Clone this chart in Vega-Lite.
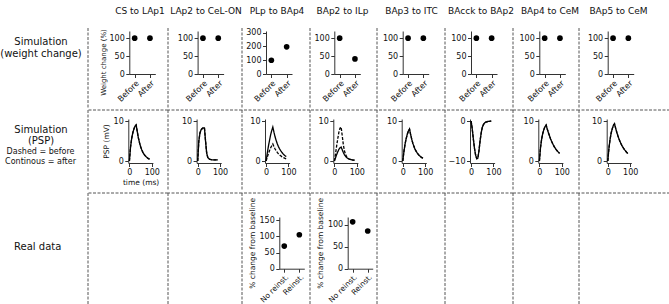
{
"$schema": "https://vega.github.io/schema/vega-lite/v6.json",
"padding": {"top": 6, "left": 0, "right": 0, "bottom": 0},
"spacing": 0,
"config": {
 "view": {"stroke": null},
 "font": "DejaVu Sans",
 "axis": {"grid": false, "domainColor": "#333", "tickColor": "#333", "tickSize": 3.5, "labelFontSize": 8, "labelColor": "#111", "labelPadding": 1.5, "titleFontSize": 7.5, "titleFontWeight": "normal", "titleColor": "#111", "labelFlush": false, "labelOverlap": false, "titlePadding": 3},
 "title": {"fontSize": 9, "fontWeight": "normal", "color": "#111", "frame": "group", "anchor": "middle", "offset": 12}
},
"datasets": {
 "sep": [{"p": 0}],
 "weight": [
  {"c":"CS to LAp1","phase":"Before","value":100},{"c":"CS to LAp1","phase":"After","value":100},
  {"c":"LAp2 to CeL-ON","phase":"Before","value":100},{"c":"LAp2 to CeL-ON","phase":"After","value":100},
  {"c":"PLp to BAp4","phase":"Before","value":100},{"c":"PLp to BAp4","phase":"After","value":197},
  {"c":"BAp2 to ILp","phase":"Before","value":100},{"c":"BAp2 to ILp","phase":"After","value":42},
  {"c":"BAp3 to ITC","phase":"Before","value":100},{"c":"BAp3 to ITC","phase":"After","value":100},
  {"c":"BAcck to BAp2","phase":"Before","value":100},{"c":"BAcck to BAp2","phase":"After","value":100},
  {"c":"BAp4 to CeM","phase":"Before","value":100},{"c":"BAp4 to CeM","phase":"After","value":100},
  {"c":"BAp5 to CeM","phase":"Before","value":100},{"c":"BAp5 to CeM","phase":"After","value":100}
 ],
 "real": [
  {"c":"PLp to BAp4","group":"No reinst.","value":70},{"c":"PLp to BAp4","group":"Reinst.","value":105},
  {"c":"BAp2 to ILp","group":"No reinst.","value":107},{"c":"BAp2 to ILp","group":"Reinst.","value":86}
 ],
 "psp": [
  {"c":"CS to LAp1","s":"before","t":0,"v":0},{"c":"CS to LAp1","s":"before","t":5,"v":3.5},{"c":"CS to LAp1","s":"before","t":10,"v":5.6},{"c":"CS to LAp1","s":"before","t":15,"v":7.0},{"c":"CS to LAp1","s":"before","t":20,"v":8.0},{"c":"CS to LAp1","s":"before","t":25,"v":8.7},{"c":"CS to LAp1","s":"before","t":30,"v":9.0},{"c":"CS to LAp1","s":"before","t":35,"v":7.4},{"c":"CS to LAp1","s":"before","t":40,"v":5.8},{"c":"CS to LAp1","s":"before","t":45,"v":4.6},{"c":"CS to LAp1","s":"before","t":50,"v":3.6},{"c":"CS to LAp1","s":"before","t":55,"v":2.8},{"c":"CS to LAp1","s":"before","t":60,"v":2.2},{"c":"CS to LAp1","s":"before","t":65,"v":1.7},{"c":"CS to LAp1","s":"before","t":70,"v":1.35},{"c":"CS to LAp1","s":"before","t":75,"v":1.05},{"c":"CS to LAp1","s":"before","t":80,"v":0.8},{"c":"CS to LAp1","s":"before","t":85,"v":0.6},{"c":"CS to LAp1","s":"before","t":90,"v":0.45},
  {"c":"CS to LAp1","s":"after","t":0,"v":0},{"c":"CS to LAp1","s":"after","t":5,"v":3.5},{"c":"CS to LAp1","s":"after","t":10,"v":5.6},{"c":"CS to LAp1","s":"after","t":15,"v":7.0},{"c":"CS to LAp1","s":"after","t":20,"v":8.0},{"c":"CS to LAp1","s":"after","t":25,"v":8.7},{"c":"CS to LAp1","s":"after","t":30,"v":9.0},{"c":"CS to LAp1","s":"after","t":35,"v":7.4},{"c":"CS to LAp1","s":"after","t":40,"v":5.8},{"c":"CS to LAp1","s":"after","t":45,"v":4.6},{"c":"CS to LAp1","s":"after","t":50,"v":3.6},{"c":"CS to LAp1","s":"after","t":55,"v":2.8},{"c":"CS to LAp1","s":"after","t":60,"v":2.2},{"c":"CS to LAp1","s":"after","t":65,"v":1.7},{"c":"CS to LAp1","s":"after","t":70,"v":1.35},{"c":"CS to LAp1","s":"after","t":75,"v":1.05},{"c":"CS to LAp1","s":"after","t":80,"v":0.8},{"c":"CS to LAp1","s":"after","t":85,"v":0.6},{"c":"CS to LAp1","s":"after","t":90,"v":0.45},
  {"c":"LAp2 to CeL-ON","s":"before","t":0,"v":0},{"c":"LAp2 to CeL-ON","s":"before","t":5,"v":5.0},{"c":"LAp2 to CeL-ON","s":"before","t":10,"v":7.0},{"c":"LAp2 to CeL-ON","s":"before","t":15,"v":7.8},{"c":"LAp2 to CeL-ON","s":"before","t":20,"v":8.1},{"c":"LAp2 to CeL-ON","s":"before","t":25,"v":8.3},{"c":"LAp2 to CeL-ON","s":"before","t":30,"v":8.3},{"c":"LAp2 to CeL-ON","s":"before","t":35,"v":5.0},{"c":"LAp2 to CeL-ON","s":"before","t":40,"v":2.0},{"c":"LAp2 to CeL-ON","s":"before","t":45,"v":0.9},{"c":"LAp2 to CeL-ON","s":"before","t":50,"v":0.55},{"c":"LAp2 to CeL-ON","s":"before","t":55,"v":0.4},{"c":"LAp2 to CeL-ON","s":"before","t":60,"v":0.35},{"c":"LAp2 to CeL-ON","s":"before","t":65,"v":0.3},{"c":"LAp2 to CeL-ON","s":"before","t":70,"v":0.3},{"c":"LAp2 to CeL-ON","s":"before","t":75,"v":0.3},{"c":"LAp2 to CeL-ON","s":"before","t":80,"v":0.3},{"c":"LAp2 to CeL-ON","s":"before","t":85,"v":0.3},{"c":"LAp2 to CeL-ON","s":"before","t":90,"v":0.3},
  {"c":"LAp2 to CeL-ON","s":"after","t":0,"v":0},{"c":"LAp2 to CeL-ON","s":"after","t":5,"v":5.0},{"c":"LAp2 to CeL-ON","s":"after","t":10,"v":7.0},{"c":"LAp2 to CeL-ON","s":"after","t":15,"v":7.8},{"c":"LAp2 to CeL-ON","s":"after","t":20,"v":8.1},{"c":"LAp2 to CeL-ON","s":"after","t":25,"v":8.3},{"c":"LAp2 to CeL-ON","s":"after","t":30,"v":8.3},{"c":"LAp2 to CeL-ON","s":"after","t":35,"v":5.0},{"c":"LAp2 to CeL-ON","s":"after","t":40,"v":2.0},{"c":"LAp2 to CeL-ON","s":"after","t":45,"v":0.9},{"c":"LAp2 to CeL-ON","s":"after","t":50,"v":0.55},{"c":"LAp2 to CeL-ON","s":"after","t":55,"v":0.4},{"c":"LAp2 to CeL-ON","s":"after","t":60,"v":0.35},{"c":"LAp2 to CeL-ON","s":"after","t":65,"v":0.3},{"c":"LAp2 to CeL-ON","s":"after","t":70,"v":0.3},{"c":"LAp2 to CeL-ON","s":"after","t":75,"v":0.3},{"c":"LAp2 to CeL-ON","s":"after","t":80,"v":0.3},{"c":"LAp2 to CeL-ON","s":"after","t":85,"v":0.3},{"c":"LAp2 to CeL-ON","s":"after","t":90,"v":0.3},
  {"c":"PLp to BAp4","s":"before","t":0,"v":0},{"c":"PLp to BAp4","s":"before","t":5,"v":0.95},{"c":"PLp to BAp4","s":"before","t":10,"v":1.8},{"c":"PLp to BAp4","s":"before","t":15,"v":2.55},{"c":"PLp to BAp4","s":"before","t":20,"v":3.25},{"c":"PLp to BAp4","s":"before","t":25,"v":3.8},{"c":"PLp to BAp4","s":"before","t":30,"v":4.25},{"c":"PLp to BAp4","s":"before","t":35,"v":3.6},{"c":"PLp to BAp4","s":"before","t":40,"v":3.0},{"c":"PLp to BAp4","s":"before","t":45,"v":2.55},{"c":"PLp to BAp4","s":"before","t":50,"v":2.15},{"c":"PLp to BAp4","s":"before","t":55,"v":1.8},{"c":"PLp to BAp4","s":"before","t":60,"v":1.5},{"c":"PLp to BAp4","s":"before","t":65,"v":1.3},{"c":"PLp to BAp4","s":"before","t":70,"v":1.1},{"c":"PLp to BAp4","s":"before","t":75,"v":0.9},{"c":"PLp to BAp4","s":"before","t":80,"v":0.78},{"c":"PLp to BAp4","s":"before","t":85,"v":0.65},{"c":"PLp to BAp4","s":"before","t":90,"v":0.55},
  {"c":"PLp to BAp4","s":"after","t":0,"v":0},{"c":"PLp to BAp4","s":"after","t":5,"v":1.9},{"c":"PLp to BAp4","s":"after","t":10,"v":3.6},{"c":"PLp to BAp4","s":"after","t":15,"v":5.1},{"c":"PLp to BAp4","s":"after","t":20,"v":6.5},{"c":"PLp to BAp4","s":"after","t":25,"v":7.6},{"c":"PLp to BAp4","s":"after","t":30,"v":8.5},{"c":"PLp to BAp4","s":"after","t":35,"v":7.2},{"c":"PLp to BAp4","s":"after","t":40,"v":6.05},{"c":"PLp to BAp4","s":"after","t":45,"v":5.1},{"c":"PLp to BAp4","s":"after","t":50,"v":4.3},{"c":"PLp to BAp4","s":"after","t":55,"v":3.6},{"c":"PLp to BAp4","s":"after","t":60,"v":3.05},{"c":"PLp to BAp4","s":"after","t":65,"v":2.6},{"c":"PLp to BAp4","s":"after","t":70,"v":2.2},{"c":"PLp to BAp4","s":"after","t":75,"v":1.85},{"c":"PLp to BAp4","s":"after","t":80,"v":1.55},{"c":"PLp to BAp4","s":"after","t":85,"v":1.3},{"c":"PLp to BAp4","s":"after","t":90,"v":1.1},
  {"c":"BAp2 to ILp","s":"before","t":0,"v":0},{"c":"BAp2 to ILp","s":"before","t":5,"v":1.8},{"c":"BAp2 to ILp","s":"before","t":10,"v":3.8},{"c":"BAp2 to ILp","s":"before","t":15,"v":5.6},{"c":"BAp2 to ILp","s":"before","t":20,"v":7.2},{"c":"BAp2 to ILp","s":"before","t":25,"v":8.2},{"c":"BAp2 to ILp","s":"before","t":30,"v":8.5},{"c":"BAp2 to ILp","s":"before","t":35,"v":6.3},{"c":"BAp2 to ILp","s":"before","t":40,"v":4.0},{"c":"BAp2 to ILp","s":"before","t":45,"v":2.5},{"c":"BAp2 to ILp","s":"before","t":50,"v":1.6},{"c":"BAp2 to ILp","s":"before","t":55,"v":1.0},{"c":"BAp2 to ILp","s":"before","t":60,"v":0.7},{"c":"BAp2 to ILp","s":"before","t":65,"v":0.5},{"c":"BAp2 to ILp","s":"before","t":70,"v":0.4},{"c":"BAp2 to ILp","s":"before","t":75,"v":0.3},{"c":"BAp2 to ILp","s":"before","t":80,"v":0.25},{"c":"BAp2 to ILp","s":"before","t":85,"v":0.2},{"c":"BAp2 to ILp","s":"before","t":90,"v":0.2},
  {"c":"BAp2 to ILp","s":"after","t":0,"v":0},{"c":"BAp2 to ILp","s":"after","t":5,"v":0.8},{"c":"BAp2 to ILp","s":"after","t":10,"v":1.6},{"c":"BAp2 to ILp","s":"after","t":15,"v":2.3},{"c":"BAp2 to ILp","s":"after","t":20,"v":2.9},{"c":"BAp2 to ILp","s":"after","t":25,"v":3.3},{"c":"BAp2 to ILp","s":"after","t":30,"v":3.5},{"c":"BAp2 to ILp","s":"after","t":35,"v":2.8},{"c":"BAp2 to ILp","s":"after","t":40,"v":2.1},{"c":"BAp2 to ILp","s":"after","t":45,"v":1.55},{"c":"BAp2 to ILp","s":"after","t":50,"v":1.15},{"c":"BAp2 to ILp","s":"after","t":55,"v":0.85},{"c":"BAp2 to ILp","s":"after","t":60,"v":0.65},{"c":"BAp2 to ILp","s":"after","t":65,"v":0.5},{"c":"BAp2 to ILp","s":"after","t":70,"v":0.4},{"c":"BAp2 to ILp","s":"after","t":75,"v":0.32},{"c":"BAp2 to ILp","s":"after","t":80,"v":0.27},{"c":"BAp2 to ILp","s":"after","t":85,"v":0.22},{"c":"BAp2 to ILp","s":"after","t":90,"v":0.2},
  {"c":"BAp3 to ITC","s":"before","t":0,"v":0},{"c":"BAp3 to ITC","s":"before","t":5,"v":2.4},{"c":"BAp3 to ITC","s":"before","t":10,"v":4.2},{"c":"BAp3 to ITC","s":"before","t":15,"v":5.6},{"c":"BAp3 to ITC","s":"before","t":20,"v":6.7},{"c":"BAp3 to ITC","s":"before","t":25,"v":7.5},{"c":"BAp3 to ITC","s":"before","t":30,"v":8.0},{"c":"BAp3 to ITC","s":"before","t":35,"v":6.6},{"c":"BAp3 to ITC","s":"before","t":40,"v":5.4},{"c":"BAp3 to ITC","s":"before","t":45,"v":4.4},{"c":"BAp3 to ITC","s":"before","t":50,"v":3.6},{"c":"BAp3 to ITC","s":"before","t":55,"v":2.9},{"c":"BAp3 to ITC","s":"before","t":60,"v":2.4},{"c":"BAp3 to ITC","s":"before","t":65,"v":1.95},{"c":"BAp3 to ITC","s":"before","t":70,"v":1.6},{"c":"BAp3 to ITC","s":"before","t":75,"v":1.3},{"c":"BAp3 to ITC","s":"before","t":80,"v":1.05},{"c":"BAp3 to ITC","s":"before","t":85,"v":0.85},{"c":"BAp3 to ITC","s":"before","t":90,"v":0.7},
  {"c":"BAp3 to ITC","s":"after","t":0,"v":0},{"c":"BAp3 to ITC","s":"after","t":5,"v":2.4},{"c":"BAp3 to ITC","s":"after","t":10,"v":4.2},{"c":"BAp3 to ITC","s":"after","t":15,"v":5.6},{"c":"BAp3 to ITC","s":"after","t":20,"v":6.7},{"c":"BAp3 to ITC","s":"after","t":25,"v":7.5},{"c":"BAp3 to ITC","s":"after","t":30,"v":8.0},{"c":"BAp3 to ITC","s":"after","t":35,"v":6.6},{"c":"BAp3 to ITC","s":"after","t":40,"v":5.4},{"c":"BAp3 to ITC","s":"after","t":45,"v":4.4},{"c":"BAp3 to ITC","s":"after","t":50,"v":3.6},{"c":"BAp3 to ITC","s":"after","t":55,"v":2.9},{"c":"BAp3 to ITC","s":"after","t":60,"v":2.4},{"c":"BAp3 to ITC","s":"after","t":65,"v":1.95},{"c":"BAp3 to ITC","s":"after","t":70,"v":1.6},{"c":"BAp3 to ITC","s":"after","t":75,"v":1.3},{"c":"BAp3 to ITC","s":"after","t":80,"v":1.05},{"c":"BAp3 to ITC","s":"after","t":85,"v":0.85},{"c":"BAp3 to ITC","s":"after","t":90,"v":0.7},
  {"c":"BAcck to BAp2","s":"before","t":0,"v":0},{"c":"BAcck to BAp2","s":"before","t":5,"v":-2.0},{"c":"BAcck to BAp2","s":"before","t":10,"v":-4.5},{"c":"BAcck to BAp2","s":"before","t":15,"v":-6.8},{"c":"BAcck to BAp2","s":"before","t":20,"v":-8.5},{"c":"BAcck to BAp2","s":"before","t":25,"v":-9.4},{"c":"BAcck to BAp2","s":"before","t":30,"v":-9.3},{"c":"BAcck to BAp2","s":"before","t":35,"v":-7.5},{"c":"BAcck to BAp2","s":"before","t":40,"v":-5.0},{"c":"BAcck to BAp2","s":"before","t":45,"v":-3.0},{"c":"BAcck to BAp2","s":"before","t":50,"v":-1.6},{"c":"BAcck to BAp2","s":"before","t":55,"v":-0.9},{"c":"BAcck to BAp2","s":"before","t":60,"v":-0.5},{"c":"BAcck to BAp2","s":"before","t":65,"v":-0.3},{"c":"BAcck to BAp2","s":"before","t":70,"v":-0.2},{"c":"BAcck to BAp2","s":"before","t":75,"v":-0.12},{"c":"BAcck to BAp2","s":"before","t":80,"v":-0.08},{"c":"BAcck to BAp2","s":"before","t":85,"v":-0.05},{"c":"BAcck to BAp2","s":"before","t":90,"v":-0.03},
  {"c":"BAcck to BAp2","s":"after","t":0,"v":0},{"c":"BAcck to BAp2","s":"after","t":5,"v":-2.0},{"c":"BAcck to BAp2","s":"after","t":10,"v":-4.5},{"c":"BAcck to BAp2","s":"after","t":15,"v":-6.8},{"c":"BAcck to BAp2","s":"after","t":20,"v":-8.5},{"c":"BAcck to BAp2","s":"after","t":25,"v":-9.4},{"c":"BAcck to BAp2","s":"after","t":30,"v":-9.3},{"c":"BAcck to BAp2","s":"after","t":35,"v":-7.5},{"c":"BAcck to BAp2","s":"after","t":40,"v":-5.0},{"c":"BAcck to BAp2","s":"after","t":45,"v":-3.0},{"c":"BAcck to BAp2","s":"after","t":50,"v":-1.6},{"c":"BAcck to BAp2","s":"after","t":55,"v":-0.9},{"c":"BAcck to BAp2","s":"after","t":60,"v":-0.5},{"c":"BAcck to BAp2","s":"after","t":65,"v":-0.3},{"c":"BAcck to BAp2","s":"after","t":70,"v":-0.2},{"c":"BAcck to BAp2","s":"after","t":75,"v":-0.12},{"c":"BAcck to BAp2","s":"after","t":80,"v":-0.08},{"c":"BAcck to BAp2","s":"after","t":85,"v":-0.05},{"c":"BAcck to BAp2","s":"after","t":90,"v":-0.03},
  {"c":"BAp4 to CeM","s":"before","t":0,"v":0},{"c":"BAp4 to CeM","s":"before","t":5,"v":3.4},{"c":"BAp4 to CeM","s":"before","t":10,"v":5.5},{"c":"BAp4 to CeM","s":"before","t":15,"v":6.9},{"c":"BAp4 to CeM","s":"before","t":20,"v":7.9},{"c":"BAp4 to CeM","s":"before","t":25,"v":8.6},{"c":"BAp4 to CeM","s":"before","t":30,"v":9.0},{"c":"BAp4 to CeM","s":"before","t":35,"v":8.0},{"c":"BAp4 to CeM","s":"before","t":40,"v":7.1},{"c":"BAp4 to CeM","s":"before","t":45,"v":6.3},{"c":"BAp4 to CeM","s":"before","t":50,"v":5.5},{"c":"BAp4 to CeM","s":"before","t":55,"v":4.85},{"c":"BAp4 to CeM","s":"before","t":60,"v":4.25},{"c":"BAp4 to CeM","s":"before","t":65,"v":3.7},{"c":"BAp4 to CeM","s":"before","t":70,"v":3.25},{"c":"BAp4 to CeM","s":"before","t":75,"v":2.85},{"c":"BAp4 to CeM","s":"before","t":80,"v":2.5},{"c":"BAp4 to CeM","s":"before","t":85,"v":2.2},{"c":"BAp4 to CeM","s":"before","t":90,"v":1.9},
  {"c":"BAp4 to CeM","s":"after","t":0,"v":0},{"c":"BAp4 to CeM","s":"after","t":5,"v":3.4},{"c":"BAp4 to CeM","s":"after","t":10,"v":5.5},{"c":"BAp4 to CeM","s":"after","t":15,"v":6.9},{"c":"BAp4 to CeM","s":"after","t":20,"v":7.9},{"c":"BAp4 to CeM","s":"after","t":25,"v":8.6},{"c":"BAp4 to CeM","s":"after","t":30,"v":9.0},{"c":"BAp4 to CeM","s":"after","t":35,"v":8.0},{"c":"BAp4 to CeM","s":"after","t":40,"v":7.1},{"c":"BAp4 to CeM","s":"after","t":45,"v":6.3},{"c":"BAp4 to CeM","s":"after","t":50,"v":5.5},{"c":"BAp4 to CeM","s":"after","t":55,"v":4.85},{"c":"BAp4 to CeM","s":"after","t":60,"v":4.25},{"c":"BAp4 to CeM","s":"after","t":65,"v":3.7},{"c":"BAp4 to CeM","s":"after","t":70,"v":3.25},{"c":"BAp4 to CeM","s":"after","t":75,"v":2.85},{"c":"BAp4 to CeM","s":"after","t":80,"v":2.5},{"c":"BAp4 to CeM","s":"after","t":85,"v":2.2},{"c":"BAp4 to CeM","s":"after","t":90,"v":1.9},
  {"c":"BAp5 to CeM","s":"before","t":0,"v":0},{"c":"BAp5 to CeM","s":"before","t":5,"v":3.2},{"c":"BAp5 to CeM","s":"before","t":10,"v":5.4},{"c":"BAp5 to CeM","s":"before","t":15,"v":7.0},{"c":"BAp5 to CeM","s":"before","t":20,"v":8.1},{"c":"BAp5 to CeM","s":"before","t":25,"v":8.9},{"c":"BAp5 to CeM","s":"before","t":30,"v":9.3},{"c":"BAp5 to CeM","s":"before","t":35,"v":8.2},{"c":"BAp5 to CeM","s":"before","t":40,"v":7.2},{"c":"BAp5 to CeM","s":"before","t":45,"v":6.3},{"c":"BAp5 to CeM","s":"before","t":50,"v":5.5},{"c":"BAp5 to CeM","s":"before","t":55,"v":4.8},{"c":"BAp5 to CeM","s":"before","t":60,"v":4.2},{"c":"BAp5 to CeM","s":"before","t":65,"v":3.65},{"c":"BAp5 to CeM","s":"before","t":70,"v":3.2},{"c":"BAp5 to CeM","s":"before","t":75,"v":2.8},{"c":"BAp5 to CeM","s":"before","t":80,"v":2.45},{"c":"BAp5 to CeM","s":"before","t":85,"v":2.1},{"c":"BAp5 to CeM","s":"before","t":90,"v":1.85},
  {"c":"BAp5 to CeM","s":"after","t":0,"v":0},{"c":"BAp5 to CeM","s":"after","t":5,"v":3.2},{"c":"BAp5 to CeM","s":"after","t":10,"v":5.4},{"c":"BAp5 to CeM","s":"after","t":15,"v":7.0},{"c":"BAp5 to CeM","s":"after","t":20,"v":8.1},{"c":"BAp5 to CeM","s":"after","t":25,"v":8.9},{"c":"BAp5 to CeM","s":"after","t":30,"v":9.3},{"c":"BAp5 to CeM","s":"after","t":35,"v":8.2},{"c":"BAp5 to CeM","s":"after","t":40,"v":7.2},{"c":"BAp5 to CeM","s":"after","t":45,"v":6.3},{"c":"BAp5 to CeM","s":"after","t":50,"v":5.5},{"c":"BAp5 to CeM","s":"after","t":55,"v":4.8},{"c":"BAp5 to CeM","s":"after","t":60,"v":4.2},{"c":"BAp5 to CeM","s":"after","t":65,"v":3.65},{"c":"BAp5 to CeM","s":"after","t":70,"v":3.2},{"c":"BAp5 to CeM","s":"after","t":75,"v":2.8},{"c":"BAp5 to CeM","s":"after","t":80,"v":2.45},{"c":"BAp5 to CeM","s":"after","t":85,"v":2.1},{"c":"BAp5 to CeM","s":"after","t":90,"v":1.85}
 ]
},
"vconcat": [
 {"spacing": 0, "bounds": "flush", "hconcat": [
  {"width": 87, "height": 80, "data": {"values": [{"txt": "Simulation\n(weight change)"}]}, "mark": {"type": "text", "fontSize": 10, "lineBreak": "\n", "lineHeight": 11.5, "dx": -3.5, "dy": -26, "color": "#111"}, "encoding": {"text": {"field": "txt"}}},
  {"width": 80, "height": 80, "title": {"text": "CS to LAp1", "dx": 12}, "layer": [
   {"data": {"name": "sep"}, "mark": {"type": "rule", "color": "#555", "strokeDash": [3, 1.5]}, "encoding": {"x": {"field": "p", "type": "quantitative", "scale": {"domain": [0, 1]}, "axis": null}}},
   {"data": {"name": "weight"}, "transform": [{"filter": {"field": "c", "equal": "CS to LAp1"}}], "mark": {"type": "point", "filled": true, "color": "#000", "size": 32, "opacity": 1}, "encoding": {
    "x": {"field": "phase", "type": "nominal", "sort": ["Before", "After"], "scale": {"range": [41.3, 67.3], "padding": 0.35}, "axis": {"offset": -34, "labelAngle": -45, "labelAlign": "right", "labelBaseline": "top", "title": null}},
    "y": {"field": "value", "type": "quantitative", "scale": {"domain": [0, 120], "range": [46, 3], "nice": false}, "axis": {"values": [0, 50, 100], "offset": -41.3, "title": "Weight change (%)", "titleFontSize": 7, "titleY": 34}}}}
  ], "resolve": {"scale": {"x": "independent"}}},
  {"width": 74, "height": 80, "title": {"text": "LAp2 to CeL-ON", "dx": 1}, "layer": [
   {"data": {"name": "sep"}, "mark": {"type": "rule", "color": "#555", "strokeDash": [3, 1.5]}, "encoding": {"x": {"field": "p", "type": "quantitative", "scale": {"domain": [0, 1]}, "axis": null}}},
   {"data": {"name": "weight"}, "transform": [{"filter": {"field": "c", "equal": "LAp2 to CeL-ON"}}], "mark": {"type": "point", "filled": true, "color": "#000", "size": 32, "opacity": 1}, "encoding": {
    "x": {"field": "phase", "type": "nominal", "sort": ["Before", "After"], "scale": {"range": [29.6, 55.6], "padding": 0.35}, "axis": {"offset": -34, "labelAngle": -45, "labelAlign": "right", "labelBaseline": "top", "title": null}},
    "y": {"field": "value", "type": "quantitative", "scale": {"domain": [0, 120], "range": [46, 3], "nice": false}, "axis": {"values": [0, 50, 100], "offset": -29.6, "title": null}}}}
  ], "resolve": {"scale": {"x": "independent"}}},
  {"width": 68, "height": 80, "title": {"text": "PLp to BAp4", "dx": 1}, "layer": [
   {"data": {"name": "sep"}, "mark": {"type": "rule", "color": "#555", "strokeDash": [3, 1.5]}, "encoding": {"x": {"field": "p", "type": "quantitative", "scale": {"domain": [0, 1]}, "axis": null}}},
   {"data": {"name": "weight"}, "transform": [{"filter": {"field": "c", "equal": "PLp to BAp4"}}], "mark": {"type": "point", "filled": true, "color": "#000", "size": 32, "opacity": 1}, "encoding": {
    "x": {"field": "phase", "type": "nominal", "sort": ["Before", "After"], "scale": {"range": [24, 50], "padding": 0.35}, "axis": {"offset": -34, "labelAngle": -45, "labelAlign": "right", "labelBaseline": "top", "title": null}},
    "y": {"field": "value", "type": "quantitative", "scale": {"domain": [0, 312], "range": [46, 3], "nice": false}, "axis": {"values": [0, 100, 200, 300], "offset": -24, "title": null}}}}
  ], "resolve": {"scale": {"x": "independent"}}},
  {"width": 67, "height": 80, "title": {"text": "BAp2 to ILp", "dx": -1}, "layer": [
   {"data": {"name": "sep"}, "mark": {"type": "rule", "color": "#555", "strokeDash": [3, 1.5]}, "encoding": {"x": {"field": "p", "type": "quantitative", "scale": {"domain": [0, 1]}, "axis": null}}},
   {"data": {"name": "weight"}, "transform": [{"filter": {"field": "c", "equal": "BAp2 to ILp"}}], "mark": {"type": "point", "filled": true, "color": "#000", "size": 32, "opacity": 1}, "encoding": {
    "x": {"field": "phase", "type": "nominal", "sort": ["Before", "After"], "scale": {"range": [24.3, 50.3], "padding": 0.35}, "axis": {"offset": -34, "labelAngle": -45, "labelAlign": "right", "labelBaseline": "top", "title": null}},
    "y": {"field": "value", "type": "quantitative", "scale": {"domain": [0, 120], "range": [46, 3], "nice": false}, "axis": {"values": [0, 50, 100], "offset": -24.3, "title": null}}}}
  ], "resolve": {"scale": {"x": "independent"}}},
  {"width": 68, "height": 80, "title": {"text": "BAp3 to ITC", "dx": 0.5}, "layer": [
   {"data": {"name": "sep"}, "mark": {"type": "rule", "color": "#555", "strokeDash": [3, 1.5]}, "encoding": {"x": {"field": "p", "type": "quantitative", "scale": {"domain": [0, 1]}, "axis": null}}},
   {"data": {"name": "weight"}, "transform": [{"filter": {"field": "c", "equal": "BAp3 to ITC"}}], "mark": {"type": "point", "filled": true, "color": "#000", "size": 32, "opacity": 1}, "encoding": {
    "x": {"field": "phase", "type": "nominal", "sort": ["Before", "After"], "scale": {"range": [25.7, 51.7], "padding": 0.35}, "axis": {"offset": -34, "labelAngle": -45, "labelAlign": "right", "labelBaseline": "top", "title": null}},
    "y": {"field": "value", "type": "quantitative", "scale": {"domain": [0, 120], "range": [46, 3], "nice": false}, "axis": {"values": [0, 50, 100], "offset": -25.7, "title": null}}}}
  ], "resolve": {"scale": {"x": "independent"}}},
  {"width": 68, "height": 80, "title": {"text": "BAcck to BAp2", "dx": 2}, "layer": [
   {"data": {"name": "sep"}, "mark": {"type": "rule", "color": "#555", "strokeDash": [3, 1.5]}, "encoding": {"x": {"field": "p", "type": "quantitative", "scale": {"domain": [0, 1]}, "axis": null}}},
   {"data": {"name": "weight"}, "transform": [{"filter": {"field": "c", "equal": "BAcck to BAp2"}}], "mark": {"type": "point", "filled": true, "color": "#000", "size": 32, "opacity": 1}, "encoding": {
    "x": {"field": "phase", "type": "nominal", "sort": ["Before", "After"], "scale": {"range": [26, 52], "padding": 0.35}, "axis": {"offset": -34, "labelAngle": -45, "labelAlign": "right", "labelBaseline": "top", "title": null}},
    "y": {"field": "value", "type": "quantitative", "scale": {"domain": [0, 120], "range": [46, 3], "nice": false}, "axis": {"values": [0, 50, 100], "offset": -26, "title": null}}}}
  ], "resolve": {"scale": {"x": "independent"}}},
  {"width": 66, "height": 80, "title": {"text": "BAp4 to CeM", "dx": 4}, "layer": [
   {"data": {"name": "sep"}, "mark": {"type": "rule", "color": "#555", "strokeDash": [3, 1.5]}, "encoding": {"x": {"field": "p", "type": "quantitative", "scale": {"domain": [0, 1]}, "axis": null}}},
   {"data": {"name": "weight"}, "transform": [{"filter": {"field": "c", "equal": "BAp4 to CeM"}}], "mark": {"type": "point", "filled": true, "color": "#000", "size": 32, "opacity": 1}, "encoding": {
    "x": {"field": "phase", "type": "nominal", "sort": ["Before", "After"], "scale": {"range": [26.3, 52.3], "padding": 0.35}, "axis": {"offset": -34, "labelAngle": -45, "labelAlign": "right", "labelBaseline": "top", "title": null}},
    "y": {"field": "value", "type": "quantitative", "scale": {"domain": [0, 120], "range": [46, 3], "nice": false}, "axis": {"values": [0, 50, 100], "offset": -26.3, "title": null}}}}
  ], "resolve": {"scale": {"x": "independent"}}},
  {"width": 91, "height": 80, "title": {"text": "BAp5 to CeM", "dx": -6}, "layer": [
   {"data": {"name": "sep"}, "mark": {"type": "rule", "color": "#555", "strokeDash": [3, 1.5]}, "encoding": {"x": {"field": "p", "type": "quantitative", "scale": {"domain": [0, 1]}, "axis": null}}},
   {"data": {"name": "weight"}, "transform": [{"filter": {"field": "c", "equal": "BAp5 to CeM"}}], "mark": {"type": "point", "filled": true, "color": "#000", "size": 32, "opacity": 1}, "encoding": {
    "x": {"field": "phase", "type": "nominal", "sort": ["Before", "After"], "scale": {"range": [28.7, 54.7], "padding": 0.35}, "axis": {"offset": -34, "labelAngle": -45, "labelAlign": "right", "labelBaseline": "top", "title": null}},
    "y": {"field": "value", "type": "quantitative", "scale": {"domain": [0, 120], "range": [46, 3], "nice": false}, "axis": {"values": [0, 50, 100], "offset": -28.7, "title": null}}}}
  ], "resolve": {"scale": {"x": "independent"}}}
 ]},
 {"spacing": 0, "bounds": "flush", "hconcat": [
  {"width": 87, "height": 81, "data": {"values": [{"head": "Simulation\n(PSP)", "note": "Dashed = before\nContinous = after"}]}, "layer": [
   {"mark": {"type": "text", "fontSize": 10, "lineBreak": "\n", "lineHeight": 10.5, "dx": -3.5, "dy": -20.5, "color": "#111"}, "encoding": {"text": {"field": "head"}}},
   {"mark": {"type": "text", "fontSize": 8, "lineBreak": "\n", "lineHeight": 10, "dx": -4, "dy": 1.8, "color": "#111"}, "encoding": {"text": {"field": "note"}}}
  ]},
  {"width": 80, "height": 81, "layer": [
   {"data": {"name": "sep"}, "mark": {"type": "rule", "color": "#555", "strokeDash": [3, 1.5]}, "encoding": {"x": {"field": "p", "type": "quantitative", "scale": {"domain": [0, 1]}, "axis": null}}},
   {"data": {"name": "sep"}, "mark": {"type": "rule", "color": "#555", "strokeDash": [3, 1.5]}, "encoding": {"y": {"field": "p", "type": "quantitative", "scale": {"domain": [0, 1], "reverse": true}, "axis": null}}},
   {"data": {"name": "psp"}, "transform": [{"filter": {"field": "c", "equal": "CS to LAp1"}}], "mark": {"type": "line", "color": "#000", "strokeWidth": 1.3}, "encoding": {
    "x": {"field": "t", "type": "quantitative", "scale": {"domain": [-5, 105], "range": [40.3, 64.9], "nice": false, "zero": false}, "axis": {"values": [0, 100], "offset": -28, "title": "time (ms)", "titlePadding": 2}},
    "y": {"field": "v", "type": "quantitative", "scale": {"domain": [-0.5, 10.5], "range": [53, 9], "nice": false, "zero": false}, "axis": {"values": [0, 10], "offset": -40.3, "title": "PSP (mV)"}},
    "strokeDash": {"field": "s", "type": "nominal", "scale": {"domain": ["before", "after"], "range": [[3, 1.5], [1, 0]]}, "legend": null}}}
  ], "resolve": {"scale": {"x": "independent", "y": "independent"}}},
  {"width": 74, "height": 81, "layer": [
   {"data": {"name": "sep"}, "mark": {"type": "rule", "color": "#555", "strokeDash": [3, 1.5]}, "encoding": {"x": {"field": "p", "type": "quantitative", "scale": {"domain": [0, 1]}, "axis": null}}},
   {"data": {"name": "sep"}, "mark": {"type": "rule", "color": "#555", "strokeDash": [3, 1.5]}, "encoding": {"y": {"field": "p", "type": "quantitative", "scale": {"domain": [0, 1], "reverse": true}, "axis": null}}},
   {"data": {"name": "psp"}, "transform": [{"filter": {"field": "c", "equal": "LAp2 to CeL-ON"}}], "mark": {"type": "line", "color": "#000", "strokeWidth": 1.3}, "encoding": {
    "x": {"field": "t", "type": "quantitative", "scale": {"domain": [-5, 105], "range": [28.6, 53.2], "nice": false, "zero": false}, "axis": {"values": [0, 100], "offset": -28, "title": null}},
    "y": {"field": "v", "type": "quantitative", "scale": {"domain": [-0.5, 10.5], "range": [53, 9], "nice": false, "zero": false}, "axis": {"values": [0, 10], "offset": -28.6, "title": null}},
    "strokeDash": {"field": "s", "type": "nominal", "scale": {"domain": ["before", "after"], "range": [[3, 1.5], [1, 0]]}, "legend": null}}}
  ], "resolve": {"scale": {"x": "independent", "y": "independent"}}},
  {"width": 68, "height": 81, "layer": [
   {"data": {"name": "sep"}, "mark": {"type": "rule", "color": "#555", "strokeDash": [3, 1.5]}, "encoding": {"x": {"field": "p", "type": "quantitative", "scale": {"domain": [0, 1]}, "axis": null}}},
   {"data": {"name": "sep"}, "mark": {"type": "rule", "color": "#555", "strokeDash": [3, 1.5]}, "encoding": {"y": {"field": "p", "type": "quantitative", "scale": {"domain": [0, 1], "reverse": true}, "axis": null}}},
   {"data": {"name": "psp"}, "transform": [{"filter": {"field": "c", "equal": "PLp to BAp4"}}], "mark": {"type": "line", "color": "#000", "strokeWidth": 1.3}, "encoding": {
    "x": {"field": "t", "type": "quantitative", "scale": {"domain": [-5, 105], "range": [23, 47.6], "nice": false, "zero": false}, "axis": {"values": [0, 100], "offset": -28, "title": null}},
    "y": {"field": "v", "type": "quantitative", "scale": {"domain": [-0.5, 10.5], "range": [53, 9], "nice": false, "zero": false}, "axis": {"values": [0, 10], "offset": -23, "title": null}},
    "strokeDash": {"field": "s", "type": "nominal", "scale": {"domain": ["before", "after"], "range": [[3, 1.5], [1, 0]]}, "legend": null}}}
  ], "resolve": {"scale": {"x": "independent", "y": "independent"}}},
  {"width": 67, "height": 81, "layer": [
   {"data": {"name": "sep"}, "mark": {"type": "rule", "color": "#555", "strokeDash": [3, 1.5]}, "encoding": {"x": {"field": "p", "type": "quantitative", "scale": {"domain": [0, 1]}, "axis": null}}},
   {"data": {"name": "sep"}, "mark": {"type": "rule", "color": "#555", "strokeDash": [3, 1.5]}, "encoding": {"y": {"field": "p", "type": "quantitative", "scale": {"domain": [0, 1], "reverse": true}, "axis": null}}},
   {"data": {"name": "psp"}, "transform": [{"filter": {"field": "c", "equal": "BAp2 to ILp"}}], "mark": {"type": "line", "color": "#000", "strokeWidth": 1.3}, "encoding": {
    "x": {"field": "t", "type": "quantitative", "scale": {"domain": [-5, 105], "range": [23.3, 47.9], "nice": false, "zero": false}, "axis": {"values": [0, 100], "offset": -28, "title": null}},
    "y": {"field": "v", "type": "quantitative", "scale": {"domain": [-0.5, 10.5], "range": [53, 9], "nice": false, "zero": false}, "axis": {"values": [0, 10], "offset": -23.3, "title": null}},
    "strokeDash": {"field": "s", "type": "nominal", "scale": {"domain": ["before", "after"], "range": [[3, 1.5], [1, 0]]}, "legend": null}}}
  ], "resolve": {"scale": {"x": "independent", "y": "independent"}}},
  {"width": 68, "height": 81, "layer": [
   {"data": {"name": "sep"}, "mark": {"type": "rule", "color": "#555", "strokeDash": [3, 1.5]}, "encoding": {"x": {"field": "p", "type": "quantitative", "scale": {"domain": [0, 1]}, "axis": null}}},
   {"data": {"name": "sep"}, "mark": {"type": "rule", "color": "#555", "strokeDash": [3, 1.5]}, "encoding": {"y": {"field": "p", "type": "quantitative", "scale": {"domain": [0, 1], "reverse": true}, "axis": null}}},
   {"data": {"name": "psp"}, "transform": [{"filter": {"field": "c", "equal": "BAp3 to ITC"}}], "mark": {"type": "line", "color": "#000", "strokeWidth": 1.3}, "encoding": {
    "x": {"field": "t", "type": "quantitative", "scale": {"domain": [-5, 105], "range": [24.7, 49.3], "nice": false, "zero": false}, "axis": {"values": [0, 100], "offset": -28, "title": null}},
    "y": {"field": "v", "type": "quantitative", "scale": {"domain": [-0.5, 10.5], "range": [53, 9], "nice": false, "zero": false}, "axis": {"values": [0, 10], "offset": -24.7, "title": null}},
    "strokeDash": {"field": "s", "type": "nominal", "scale": {"domain": ["before", "after"], "range": [[3, 1.5], [1, 0]]}, "legend": null}}}
  ], "resolve": {"scale": {"x": "independent", "y": "independent"}}},
  {"width": 68, "height": 81, "layer": [
   {"data": {"name": "sep"}, "mark": {"type": "rule", "color": "#555", "strokeDash": [3, 1.5]}, "encoding": {"x": {"field": "p", "type": "quantitative", "scale": {"domain": [0, 1]}, "axis": null}}},
   {"data": {"name": "sep"}, "mark": {"type": "rule", "color": "#555", "strokeDash": [3, 1.5]}, "encoding": {"y": {"field": "p", "type": "quantitative", "scale": {"domain": [0, 1], "reverse": true}, "axis": null}}},
   {"data": {"name": "psp"}, "transform": [{"filter": {"field": "c", "equal": "BAcck to BAp2"}}], "mark": {"type": "line", "color": "#000", "strokeWidth": 1.3}, "encoding": {
    "x": {"field": "t", "type": "quantitative", "scale": {"domain": [-5, 105], "range": [25, 49.6], "nice": false, "zero": false}, "axis": {"values": [0, 100], "offset": -28, "title": null}},
    "y": {"field": "v", "type": "quantitative", "scale": {"domain": [-10.5, 0.5], "range": [53, 9], "nice": false, "zero": false}, "axis": {"values": [-10, 0], "offset": -25, "title": null}},
    "strokeDash": {"field": "s", "type": "nominal", "scale": {"domain": ["before", "after"], "range": [[3, 1.5], [1, 0]]}, "legend": null}}}
  ], "resolve": {"scale": {"x": "independent", "y": "independent"}}},
  {"width": 66, "height": 81, "layer": [
   {"data": {"name": "sep"}, "mark": {"type": "rule", "color": "#555", "strokeDash": [3, 1.5]}, "encoding": {"x": {"field": "p", "type": "quantitative", "scale": {"domain": [0, 1]}, "axis": null}}},
   {"data": {"name": "sep"}, "mark": {"type": "rule", "color": "#555", "strokeDash": [3, 1.5]}, "encoding": {"y": {"field": "p", "type": "quantitative", "scale": {"domain": [0, 1], "reverse": true}, "axis": null}}},
   {"data": {"name": "psp"}, "transform": [{"filter": {"field": "c", "equal": "BAp4 to CeM"}}], "mark": {"type": "line", "color": "#000", "strokeWidth": 1.3}, "encoding": {
    "x": {"field": "t", "type": "quantitative", "scale": {"domain": [-5, 105], "range": [25.3, 49.9], "nice": false, "zero": false}, "axis": {"values": [0, 100], "offset": -28, "title": null}},
    "y": {"field": "v", "type": "quantitative", "scale": {"domain": [-0.5, 10.5], "range": [53, 9], "nice": false, "zero": false}, "axis": {"values": [0, 10], "offset": -25.3, "title": null}},
    "strokeDash": {"field": "s", "type": "nominal", "scale": {"domain": ["before", "after"], "range": [[3, 1.5], [1, 0]]}, "legend": null}}}
  ], "resolve": {"scale": {"x": "independent", "y": "independent"}}},
  {"width": 91, "height": 81, "layer": [
   {"data": {"name": "sep"}, "mark": {"type": "rule", "color": "#555", "strokeDash": [3, 1.5]}, "encoding": {"x": {"field": "p", "type": "quantitative", "scale": {"domain": [0, 1]}, "axis": null}}},
   {"data": {"name": "sep"}, "mark": {"type": "rule", "color": "#555", "strokeDash": [3, 1.5]}, "encoding": {"y": {"field": "p", "type": "quantitative", "scale": {"domain": [0, 1], "reverse": true}, "axis": null}}},
   {"data": {"name": "psp"}, "transform": [{"filter": {"field": "c", "equal": "BAp5 to CeM"}}], "mark": {"type": "line", "color": "#000", "strokeWidth": 1.3}, "encoding": {
    "x": {"field": "t", "type": "quantitative", "scale": {"domain": [-5, 105], "range": [27.7, 52.3], "nice": false, "zero": false}, "axis": {"values": [0, 100], "offset": -28, "title": null}},
    "y": {"field": "v", "type": "quantitative", "scale": {"domain": [-0.5, 10.5], "range": [53, 9], "nice": false, "zero": false}, "axis": {"values": [0, 10], "offset": -27.7, "title": null}},
    "strokeDash": {"field": "s", "type": "nominal", "scale": {"domain": ["before", "after"], "range": [[3, 1.5], [1, 0]]}, "legend": null}}}
  ], "resolve": {"scale": {"x": "independent", "y": "independent"}}}
 ]},
 {"spacing": 0, "bounds": "flush", "hconcat": [
  {"width": 87, "height": 113, "data": {"values": [{"txt": "Real data"}]}, "mark": {"type": "text", "fontSize": 10, "dx": -6.8, "dy": -2.5, "color": "#111"}, "encoding": {"text": {"field": "txt"}}},
  {"width": 80, "height": 113, "layer": [
   {"data": {"name": "sep"}, "mark": {"type": "rule", "color": "#555", "strokeDash": [3, 1.5]}, "encoding": {"x": {"field": "p", "type": "quantitative", "scale": {"domain": [0, 1]}, "axis": null}}},
   {"data": {"name": "sep"}, "mark": {"type": "rule", "color": "#555", "strokeDash": [3, 1.5]}, "encoding": {"y": {"field": "p", "type": "quantitative", "scale": {"domain": [0, 1], "reverse": true}, "axis": null}}}
  ]},
  {"width": 74, "height": 113, "layer": [
   {"data": {"name": "sep"}, "mark": {"type": "rule", "color": "#555", "strokeDash": [3, 1.5]}, "encoding": {"x": {"field": "p", "type": "quantitative", "scale": {"domain": [0, 1]}, "axis": null}}},
   {"data": {"name": "sep"}, "mark": {"type": "rule", "color": "#555", "strokeDash": [3, 1.5]}, "encoding": {"y": {"field": "p", "type": "quantitative", "scale": {"domain": [0, 1], "reverse": true}, "axis": null}}}
  ]},
  {"width": 68, "height": 113, "layer": [
   {"data": {"name": "sep"}, "mark": {"type": "rule", "color": "#555", "strokeDash": [3, 1.5]}, "encoding": {"x": {"field": "p", "type": "quantitative", "scale": {"domain": [0, 1]}, "axis": null}}},
   {"data": {"name": "sep"}, "mark": {"type": "rule", "color": "#555", "strokeDash": [3, 1.5]}, "encoding": {"y": {"field": "p", "type": "quantitative", "scale": {"domain": [0, 1], "reverse": true}, "axis": null}}},
   {"data": {"name": "real"}, "transform": [{"filter": {"field": "c", "equal": "PLp to BAp4"}}], "mark": {"type": "point", "filled": true, "color": "#000", "size": 32, "opacity": 1}, "encoding": {
    "x": {"field": "group", "type": "nominal", "sort": ["No reinst.", "Reinst."], "scale": {"range": [37.3, 62.3], "padding": 0.33}, "axis": {"offset": -37.3, "labelAngle": -45, "labelAlign": "right", "labelBaseline": "top", "labelFontSize": 7.5, "labelPadding": 0.5, "title": null}},
    "y": {"field": "value", "type": "quantitative", "scale": {"domain": [0, 160], "range": [75.7, 24], "nice": false}, "axis": {"values": [0, 50, 100, 150], "offset": -37.3, "title": "% change from baseline"}}}}
  ], "resolve": {"scale": {"x": "independent", "y": "independent"}}},
  {"width": 67, "height": 113, "layer": [
   {"data": {"name": "sep"}, "mark": {"type": "rule", "color": "#555", "strokeDash": [3, 1.5]}, "encoding": {"x": {"field": "p", "type": "quantitative", "scale": {"domain": [0, 1]}, "axis": null}}},
   {"data": {"name": "sep"}, "mark": {"type": "rule", "color": "#555", "strokeDash": [3, 1.5]}, "encoding": {"y": {"field": "p", "type": "quantitative", "scale": {"domain": [0, 1], "reverse": true}, "axis": null}}},
   {"data": {"name": "real"}, "transform": [{"filter": {"field": "c", "equal": "BAp2 to ILp"}}], "mark": {"type": "point", "filled": true, "color": "#000", "size": 32, "opacity": 1}, "encoding": {
    "x": {"field": "group", "type": "nominal", "sort": ["No reinst.", "Reinst."], "scale": {"range": [37.7, 62.7], "padding": 0.33}, "axis": {"offset": -37.3, "labelAngle": -45, "labelAlign": "right", "labelBaseline": "top", "labelFontSize": 7.5, "labelPadding": 0.5, "title": null}},
    "y": {"field": "value", "type": "quantitative", "scale": {"domain": [0, 118], "range": [75.7, 24], "nice": false}, "axis": {"values": [0, 50, 100], "offset": -37.7, "title": "% change from baseline"}}}}
  ], "resolve": {"scale": {"x": "independent", "y": "independent"}}},
  {"width": 68, "height": 113, "layer": [
   {"data": {"name": "sep"}, "mark": {"type": "rule", "color": "#555", "strokeDash": [3, 1.5]}, "encoding": {"x": {"field": "p", "type": "quantitative", "scale": {"domain": [0, 1]}, "axis": null}}},
   {"data": {"name": "sep"}, "mark": {"type": "rule", "color": "#555", "strokeDash": [3, 1.5]}, "encoding": {"y": {"field": "p", "type": "quantitative", "scale": {"domain": [0, 1], "reverse": true}, "axis": null}}}
  ]},
  {"width": 68, "height": 113, "layer": [
   {"data": {"name": "sep"}, "mark": {"type": "rule", "color": "#555", "strokeDash": [3, 1.5]}, "encoding": {"x": {"field": "p", "type": "quantitative", "scale": {"domain": [0, 1]}, "axis": null}}},
   {"data": {"name": "sep"}, "mark": {"type": "rule", "color": "#555", "strokeDash": [3, 1.5]}, "encoding": {"y": {"field": "p", "type": "quantitative", "scale": {"domain": [0, 1], "reverse": true}, "axis": null}}}
  ]},
  {"width": 66, "height": 113, "layer": [
   {"data": {"name": "sep"}, "mark": {"type": "rule", "color": "#555", "strokeDash": [3, 1.5]}, "encoding": {"x": {"field": "p", "type": "quantitative", "scale": {"domain": [0, 1]}, "axis": null}}},
   {"data": {"name": "sep"}, "mark": {"type": "rule", "color": "#555", "strokeDash": [3, 1.5]}, "encoding": {"y": {"field": "p", "type": "quantitative", "scale": {"domain": [0, 1], "reverse": true}, "axis": null}}}
  ]},
  {"width": 91, "height": 113, "layer": [
   {"data": {"name": "sep"}, "mark": {"type": "rule", "color": "#555", "strokeDash": [3, 1.5]}, "encoding": {"x": {"field": "p", "type": "quantitative", "scale": {"domain": [0, 1]}, "axis": null}}},
   {"data": {"name": "sep"}, "mark": {"type": "rule", "color": "#555", "strokeDash": [3, 1.5]}, "encoding": {"y": {"field": "p", "type": "quantitative", "scale": {"domain": [0, 1], "reverse": true}, "axis": null}}}
  ]}
 ]}
]
}
